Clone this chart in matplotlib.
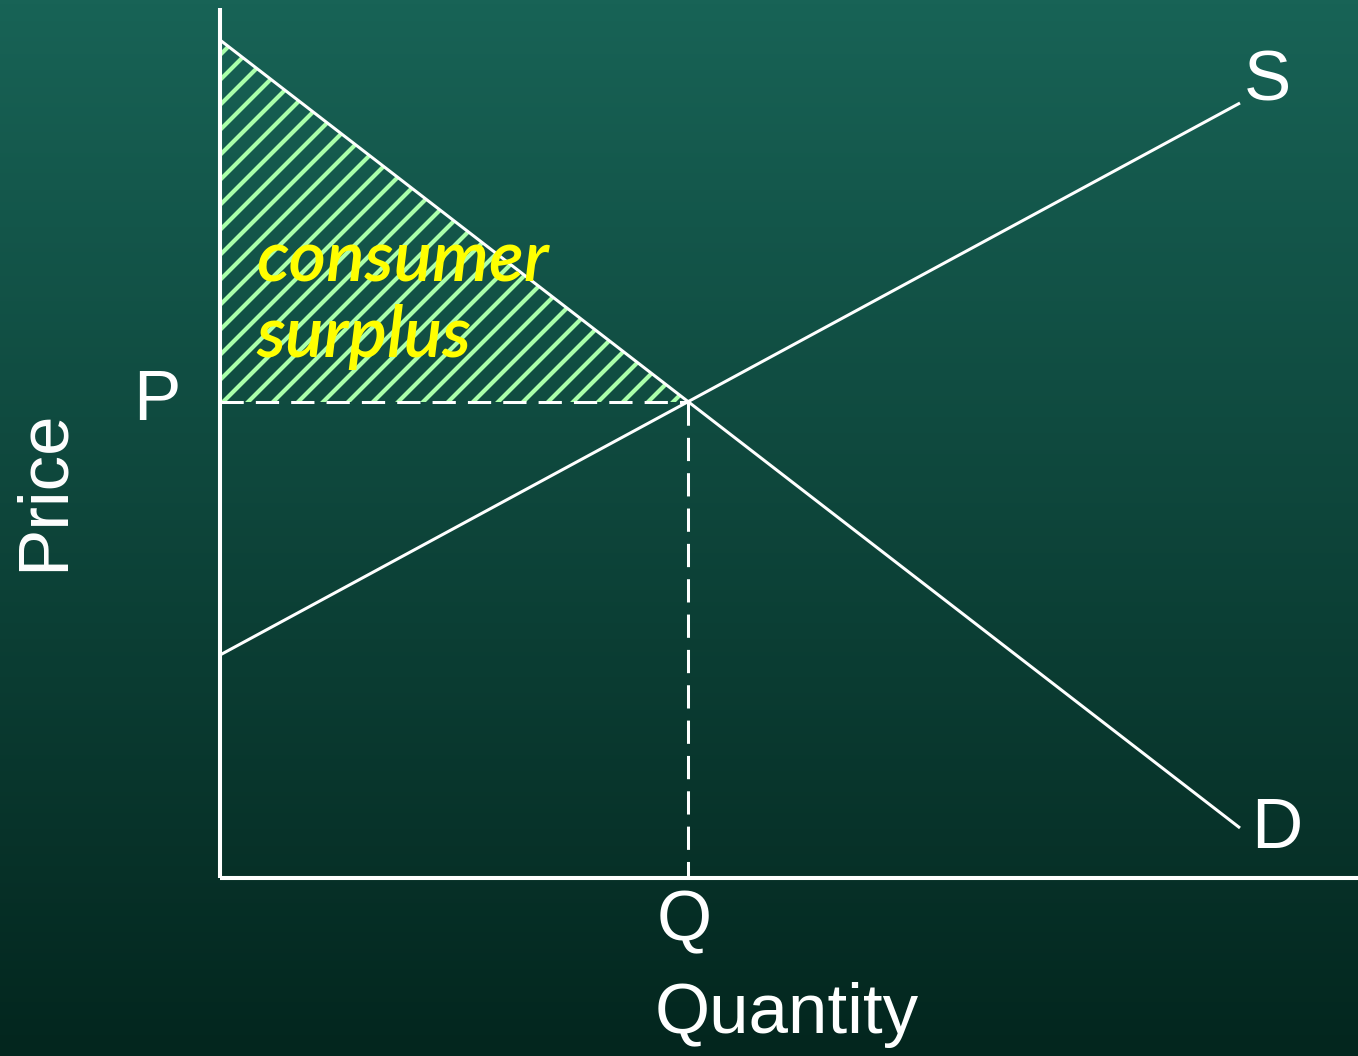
import numpy as np
import matplotlib
matplotlib.use("Agg")
import matplotlib.pyplot as plt
from matplotlib.colors import LinearSegmentedColormap
from matplotlib.patches import Polygon

# Curve end points (quantity, price), axis units
demand_q = [0.0, 10.20]
demand_p = [8.38, 0.50]
supply_q = [0.0, 10.20]
supply_p = [2.23, 7.75]

curve_labels = ["S", "D"]
axis_labels = ["Quantity", "Price"]
eq_labels = ["Q", "P"]
area_label = "consumer\nsurplus"

BG_TOP = "#186356"
BG_BOTTOM = "#03261e"
HATCH_COLOR = "#aaffaa"
WHITE = "white"

DPI = 150
plt.rcParams["font.family"] = ["Liberation Sans", "DejaVu Sans"]
plt.rcParams["hatch.linewidth"] = 2.0

# equilibrium from the two straight lines
d_slope = (demand_p[1] - demand_p[0]) / (demand_q[1] - demand_q[0])
s_slope = (supply_p[1] - supply_p[0]) / (supply_q[1] - supply_q[0])
eq_q = (supply_p[0] - demand_p[0]) / (d_slope - s_slope)
eq_p = demand_p[0] + d_slope * eq_q

fig = plt.figure(figsize=(1358 / DPI, 1056 / DPI), dpi=DPI)

# gradient background
bg = fig.add_axes([0, 0, 1, 1], zorder=0)
cmap = LinearSegmentedColormap.from_list("bg", [BG_BOTTOM, BG_TOP])
grad = np.linspace(0, 1, 256).reshape(-1, 1)
bg.imshow(grad, aspect="auto", cmap=cmap, origin="lower", extent=[0, 1, 0, 1])
bg.axis("off")

ax = fig.add_axes([220 / 1358, 178 / 1056, 1138 / 1358, 870 / 1056], zorder=1)
ax.set_facecolor("none")
ax.set_xlim(0, 11.38)
ax.set_ylim(0, 8.70)
for side in ["top", "right"]:
    ax.spines[side].set_visible(False)
for side in ["left", "bottom"]:
    ax.spines[side].set_color(WHITE)
    ax.spines[side].set_linewidth(1.95)
    ax.spines[side].set_capstyle("butt")
ax.set_xticks([])
ax.set_yticks([])

# consumer surplus area
tri = Polygon([[0, demand_p[0]], [0, eq_p], [eq_q, eq_p]], closed=True,
              facecolor="none", edgecolor=HATCH_COLOR, linewidth=0,
              hatch="//", zorder=2)
ax.add_patch(tri)

lw = 1.45
ax.plot(demand_q, demand_p, color=WHITE, lw=lw, zorder=3, solid_capstyle="butt")
ax.plot(supply_q, supply_p, color=WHITE, lw=lw, zorder=3, solid_capstyle="butt")
dash = (0, (7.7, 4.0))
ax.plot([0, eq_q], [eq_p, eq_p], color=WHITE, lw=lw, linestyle=dash, zorder=3)
ax.plot([eq_q, eq_q], [eq_p, 0], color=WHITE, lw=lw, linestyle=dash, zorder=3)

fs = 34
ax.text(supply_q[1] + 0.27, supply_p[1] + 0.20, curve_labels[0], color=WHITE,
        fontsize=fs, ha="center", va="center")
ax.text(demand_q[1] + 0.37, demand_p[1] - 0.02, curve_labels[1], color=WHITE,
        fontsize=fs, ha="center", va="center")
ax.text(-0.63, eq_p + 0.0, eq_labels[1], color=WHITE, fontsize=fs,
        ha="center", va="center")
ax.text(eq_q - 0.04, -0.44, eq_labels[0], color=WHITE, fontsize=fs,
        ha="center", va="center")
ax.text(5.67, -1.37, axis_labels[0], color=WHITE, fontsize=fs,
        ha="center", va="center")
ax.text(-1.75, 3.88, axis_labels[1], color=WHITE, fontsize=fs,
        ha="center", va="center", rotation=90)

ax.text(0.36, 5.21, area_label, color="#ffff00", fontsize=34.5,
        family=["Lato", "DejaVu Sans"], style="italic", weight="semibold",
        ha="left", va="baseline", linespacing=1.17, zorder=4)

fig.savefig("out.png", dpi=DPI)
